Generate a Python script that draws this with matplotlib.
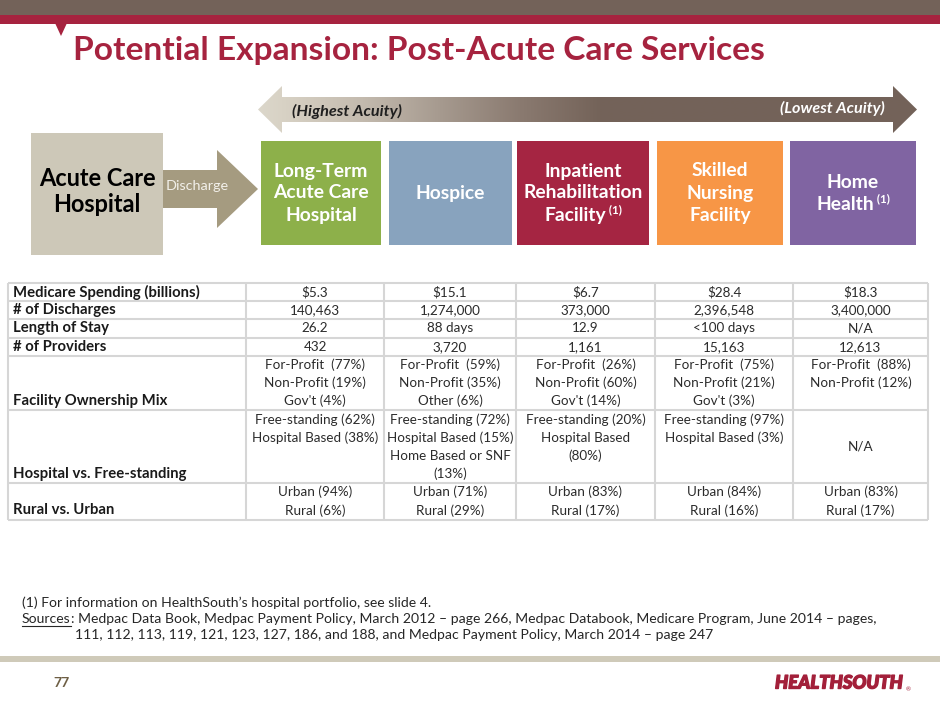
import matplotlib
matplotlib.use("Agg")
import matplotlib.pyplot as plt
import matplotlib.patheffects as pe
import numpy as np
from matplotlib.patches import Rectangle, Polygon
from matplotlib.colors import to_rgb

# ---------------- data ----------------
title = "Potential Expansion: Post-Acute Care Services"
origin_label = ["Acute Care", "Hospital"]
discharge_label = "Discharge"
acuity_labels = ["(Highest Acuity)", "(Lowest Acuity)"]
settings = [["Long-Term", "Acute Care", "Hospital"],
            ["Hospice"],
            ["Inpatient", "Rehabilitation", "Facility"],
            ["Skilled", "Nursing", "Facility"],
            ["Home", "Health"]]
setting_footnote = [False, False, True, False, True]
setting_colors = ["#8DB04A", "#88A3BE", "#A52542", "#F79646", "#8064A2"]

row_labels = ["Medicare Spending (billions)", "# of Discharges", "Length of Stay",
              "# of Providers", "Facility Ownership Mix",
              "Hospital vs. Free-standing", "Rural vs. Urban"]
medicare_spending = ["$5.3", "$15.1", "$6.7", "$28.4", "$18.3"]
discharges = ["140,463", "1,274,000", "373,000", "2,396,548", "3,400,000"]
length_of_stay = ["26.2", "88 days", "12.9", "<100 days", "N/A"]
providers = ["432", "3,720", "1,161", "15,163", "12,613"]
ownership_mix = [["For-Profit  (77%)", "Non-Profit (19%)", "Gov't (4%)"],
                 ["For-Profit  (59%)", "Non-Profit (35%)", "Other (6%)"],
                 ["For-Profit  (26%)", "Non-Profit (60%)", "Gov't (14%)"],
                 ["For-Profit  (75%)", "Non-Profit (21%)", "Gov't (3%)"],
                 ["For-Profit  (88%)", "Non-Profit (12%)"]]
hospital_vs_free = [["Free-standing (62%)", "Hospital Based (38%)"],
                    ["Free-standing (72%)", "Hospital Based (15%)", "Home Based or SNF", "(13%)"],
                    ["Free-standing (20%)", "Hospital Based", "(80%)"],
                    ["Free-standing (97%)", "Hospital Based (3%)"],
                    ["N/A"]]
rural_vs_urban = [["Urban (94%)", "Rural (6%)"],
                  ["Urban (71%)", "Rural (29%)"],
                  ["Urban (83%)", "Rural (17%)"],
                  ["Urban (84%)", "Rural (16%)"],
                  ["Urban (83%)", "Rural (17%)"]]
footnote1 = "(1) For information on HealthSouth\u2019s hospital portfolio, see slide 4."
sources_head = "Sources"
sources_line1 = ": Medpac Data Book, Medpac Payment Policy, March 2012 \u2013 page 266, Medpac Databook, Medicare Program, June 2014 \u2013 pages,"
sources_line2 = "111, 112, 113, 119, 121, 123, 127, 186, and 188, and Medpac Payment Policy, March 2014 \u2013 page 247"
page_number = "77"
logo = "HEALTHSOUTH"

# ---------------- canvas ----------------
W, H = 940, 705
fig = plt.figure(figsize=(9.4, 7.05), dpi=100)
ax = fig.add_axes([0, 0, 1, 1])
ax.set_xlim(0, W)
ax.set_ylim(H, 0)
ax.axis("off")
fig.canvas.draw()
R = fig.canvas.get_renderer()
FONT = "Lato"
PT = 0.72  # px -> pt at 100 dpi


def txt(x, y, s, px, fit=None, **kw):
    kw.setdefault("family", FONT)
    t = ax.text(x, y, s, fontsize=px * PT, **kw)
    if fit is not None:
        w = t.get_window_extent(renderer=R).width
        t.set_fontsize(t.get_fontsize() * fit / w)
    return t


def width(t):
    return t.get_window_extent(renderer=R).width


def fitted_size(s, target, **kw):
    t = txt(0, 0, s, 12, fit=target, **kw)
    fs = t.get_fontsize()
    t.remove()
    return fs / PT


# ---------------- header ----------------
GRAY = "#736259"
CRIMSON = "#A6233F"
ax.add_patch(Rectangle((0, 0), W, 15, color=GRAY, lw=0))
ax.add_patch(Rectangle((0, 15), W, 9, color=CRIMSON, lw=0))
ax.add_patch(Polygon([(55, 23), (67, 23), (61, 36)], closed=True, color=CRIMSON, lw=0))
txt(73, 60, title, 30, fit=692, color=CRIMSON, weight="bold", va="baseline")

# ---------------- acuity arrow ----------------
arrow_pts = [(258, 109.5), (282, 86), (282, 97), (893, 97), (893, 86), (917, 109.5),
             (893, 133), (893, 122), (282, 122), (282, 133)]
arrow = Polygon(arrow_pts, closed=True, facecolor="none", edgecolor="none")
ax.add_patch(arrow)
gx = [258, 282, 360, 440, 520, 600, 917]
gc = ["#DCD7CB", "#D8D2C5", "#C4BBAF", "#A69A8F", "#8A7A70", "#746359", "#736259"]
xs = np.linspace(258, 917, 660)
rgb = np.array([to_rgb(c) for c in gc])
img = np.stack([np.interp(xs, gx, rgb[:, k]) for k in range(3)], axis=-1)[None, :, :]
img = np.repeat(img, 2, axis=0)
im = ax.imshow(img, extent=[258, 917, 133, 86], aspect="auto", interpolation="bilinear", zorder=1)
im.set_clip_path(arrow)
ax.set_xlim(0, W)
ax.set_ylim(H, 0)
txt(292, 111, acuity_labels[0], 14, fit=110, color="#1F1F1F", weight="bold", style="italic", va="center", zorder=3)
txt(885, 108, acuity_labels[1], 14, fit=105, color="white", weight="bold", style="italic", va="center", ha="right", zorder=3)

# ---------------- boxes ----------------
ax.add_patch(Rectangle((31, 133), 132, 122, color="#CDC8B8", lw=0))
acute_px = fitted_size(origin_label[0], 117, weight="bold")
for i, s in enumerate(origin_label):
    txt(97, 178 + 26 * i, s, acute_px, color="black", weight="bold", ha="center", va="center")

ax.add_patch(Polygon([(163, 170), (217, 170), (217, 150), (258, 189), (217, 228), (217, 208), (163, 208)],
                     closed=True, color="#A59B80", lw=0))
txt(197, 186, discharge_label, 12, fit=63, color="#F2F0EA", ha="center", va="center")

box_edges = [(261, 381), (389, 512), (517, 649), (657, 783), (790, 916)]
box_px = fitted_size("Rehabilitation", 120, weight="bold")
for (x0, x1), lines, fn, col in zip(box_edges, settings, setting_footnote, setting_colors):
    ax.add_patch(Rectangle((x0, 141), x1 - x0, 104, color=col, lw=0))
    cx = (x0 + x1) / 2
    n = len(lines)
    for i, s in enumerate(lines):
        y = 193 + 22 * (i - (n - 1) / 2)
        if fn and i == n - 1:
            t = txt(0, y, s, box_px, color="white", weight="bold", va="center")
            sup = txt(0, y - 5, " (1)", box_px * 0.6, color="white", weight="bold", va="center")
            w1, w2 = width(t), width(sup)
            left = cx - (w1 + w2) / 2
            t.set_x(left)
            sup.set_x(left + w1)
        else:
            txt(cx, y, s, box_px, color="white", weight="bold", ha="center", va="center")

# ---------------- table ----------------
col_edges = [8, 246, 384, 516, 655, 793, 928]
rows = [medicare_spending, discharges, length_of_stay, providers,
        ownership_mix, hospital_vs_free, rural_vs_urban]
line_h = 18.2
top = 283.0
label_px = fitted_size(row_labels[0], 186, weight="bold")
value_px = fitted_size("Hospital Based (38%)", 126)
GRID = "#D6D6D6"
row_tops = [top]
for label, cells in zip(row_labels, rows):
    cells = [c if isinstance(c, list) else [c] for c in cells]
    n = max(len(c) for c in cells)
    rt = row_tops[-1]
    txt(13, rt + 9 + line_h * (n - 1), label, label_px, color="#1A1A1A", weight="bold", va="center")
    for j, c in enumerate(cells):
        cx = (col_edges[j + 1] + col_edges[j + 2]) / 2
        if len(c) == 1:
            ys = [rt + n * line_h / 2]
        else:
            ys = [rt + 9 + line_h * k for k in range(len(c))]
        for y, s in zip(ys, c):
            txt(cx, y, s, value_px, color="#2B2B2B", ha="center", va="center")
    row_tops.append(rt + n * line_h)
for y in row_tops:
    ax.plot([col_edges[0], col_edges[-1]], [y, y], color=GRID, lw=1.5, solid_capstyle="butt")
for x in col_edges:
    ax.plot([x, x], [row_tops[0], row_tops[-1]], color=GRID, lw=1.5, solid_capstyle="butt")

# ---------------- footnotes ----------------
foot_px = fitted_size(footnote1, 410)
txt(22, 603, footnote1, foot_px, color="#262626", va="center")
sh = txt(22, 619, sources_head, foot_px, color="#262626", va="center")
wsh = width(sh)
ax.plot([22, 22 + wsh], [626, 626], color="#262626", lw=0.8)
txt(22 + wsh, 619, sources_line1, foot_px, color="#262626", va="center")
txt(75, 635, sources_line2, foot_px, color="#262626", va="center")

# ---------------- footer ----------------
ax.add_patch(Rectangle((0, 656), W, 6, color="#CFCAB9", lw=0))
txt(53, 683, page_number, 14, color="#6E5F45", weight="bold", va="center")
lg = txt(775, 683, logo, 18, fit=128, color="#A3203A", weight="black", style="italic", va="center")
lg.set_path_effects([pe.withStroke(linewidth=1.0, foreground="#A3203A")])
txt(906, 690, "\u00ae", 6, color="#A3203A", va="center")

fig.savefig("out.png", dpi=100)
